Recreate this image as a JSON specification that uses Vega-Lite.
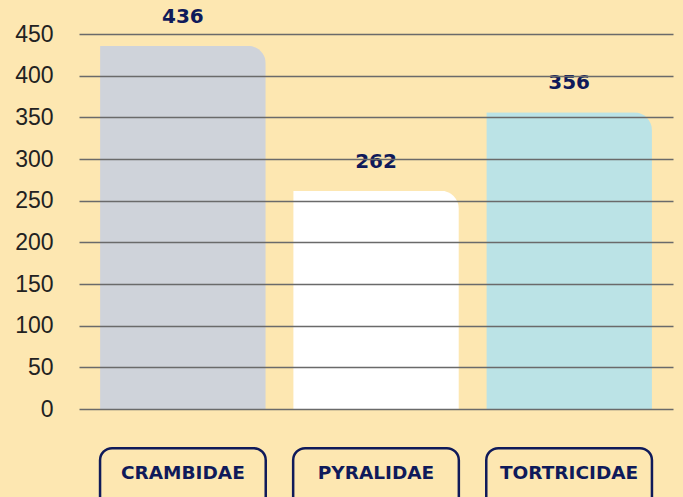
{
  "$schema": "https://vega.github.io/schema/vega-lite/v6.json",
  "width": 594,
  "height": 463,
  "autosize": {"type": "none"},
  "padding": {"left": 79, "top": 34, "right": 10, "bottom": 0},
  "background": "#fde7b1",
  "config": {"view": {"stroke": null}},
  "data": {
    "values": [
      {"family": "CRAMBIDAE", "count": 436},
      {"family": "PYRALIDAE", "count": 262},
      {"family": "TORTRICIDAE", "count": 356}
    ]
  },
  "encoding": {
    "x": {
      "field": "family",
      "type": "nominal",
      "sort": null,
      "axis": null,
      "scale": {"paddingInner": 0.142, "paddingOuter": 0.109}
    }
  },
  "layer": [
    {
      "mark": {"type": "bar", "cornerRadiusTopRight": 18},
      "encoding": {
        "y": {
          "field": "count",
          "type": "quantitative",
          "scale": {"domain": [-105.6, 450], "nice": false, "zero": false},
          "axis": {
            "values": [0, 50, 100, 150, 200, 250, 300, 350, 400, 450],
            "title": null,
            "domain": false,
            "ticks": false,
            "tickSize": 0,
            "labelPadding": 26,
            "labelFont": "Liberation Sans",
            "labelFontSize": 23,
            "labelColor": "#222222",
            "labelBaseline": "middle",
            "grid": true,
            "gridColor": "#6a6a6a",
            "gridWidth": 1.5,
            "zindex": 1
          }
        },
        "color": {
          "field": "family",
          "type": "nominal",
          "sort": null,
          "legend": null,
          "scale": {"range": ["#cfd3da", "#ffffff", "#bbe3e6"]}
        }
      }
    },
    {
      "mark": {
        "type": "text",
        "dy": -29,
        "baseline": "middle",
        "font": "DejaVu Sans",
        "fontWeight": "bold",
        "fontSize": 20,
        "color": "#0f1a5a"
      },
      "encoding": {
        "y": {"field": "count", "type": "quantitative"},
        "text": {"field": "count", "type": "quantitative"}
      }
    },
    {
      "mark": {
        "type": "rect",
        "filled": false,
        "color": "#0f1a5a",
        "strokeWidth": 2.5,
        "cornerRadius": 12
      },
      "encoding": {
        "y": {"datum": -47},
        "y2": {"datum": -125}
      }
    },
    {
      "mark": {
        "type": "text",
        "baseline": "middle",
        "font": "DejaVu Sans",
        "fontWeight": "bold",
        "fontSize": 18.5,
        "color": "#0f1a5a"
      },
      "encoding": {
        "y": {"datum": -77},
        "text": {"field": "family", "type": "nominal"}
      }
    }
  ]
}
